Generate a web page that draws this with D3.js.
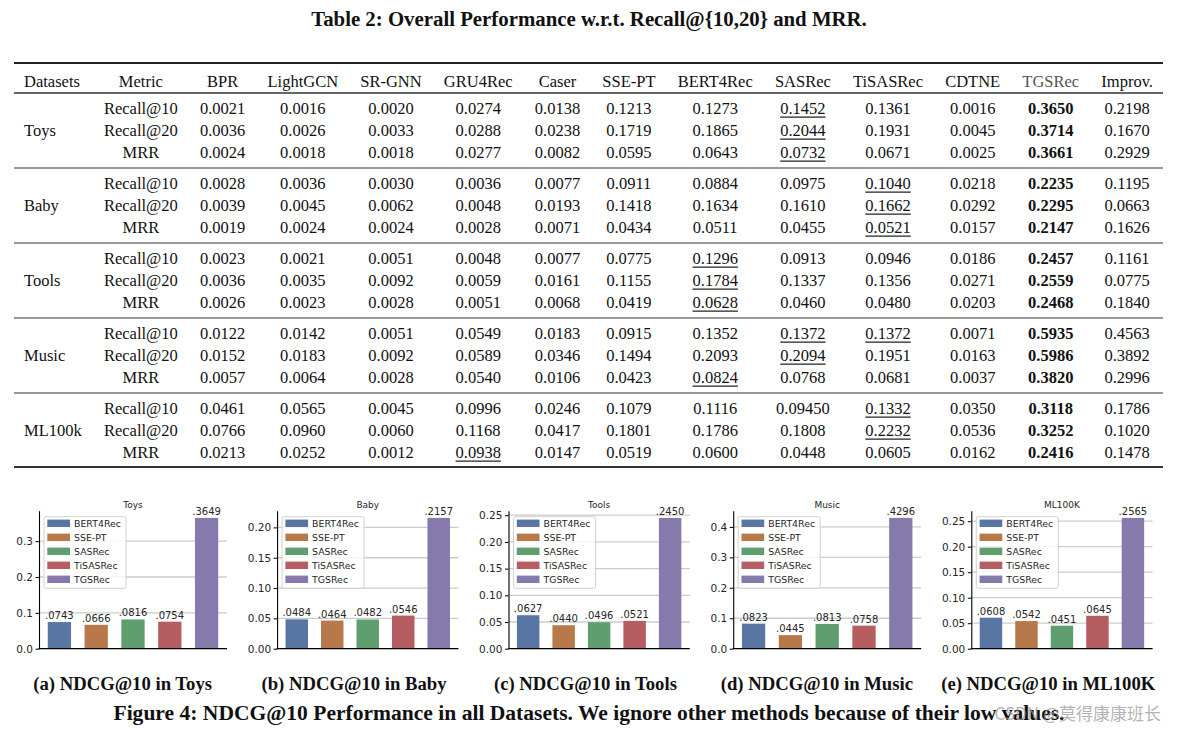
<!DOCTYPE html>
<html><head><meta charset="utf-8">
<script src="https://cdn.jsdelivr.net/npm/d3@7"></script>
<style>body{margin:0;background:#fff} svg{display:block}</style>
</head><body><svg id="c" width="1177" height="734"></svg>
<script>
// ---------------- DATA ----------------
const tableTitle = "Table 2: Overall Performance w.r.t. Recall@{10,20} and MRR.";
const methods = ["BPR","LightGCN","SR-GNN","GRU4Rec","Caser","SSE-PT","BERT4Rec","SASRec","TiSASRec","CDTNE","TGSRec","Improv."];
const datasets = ["Toys","Baby","Tools","Music","ML100k"];
const metrics = ["Recall@10","Recall@20","MRR"];
const toysTable = [
 ["0.0021","0.0016","0.0020","0.0274","0.0138","0.1213","0.1273","0.1452","0.1361","0.0016","0.3650","0.2198"],
 ["0.0036","0.0026","0.0033","0.0288","0.0238","0.1719","0.1865","0.2044","0.1931","0.0045","0.3714","0.1670"],
 ["0.0024","0.0018","0.0018","0.0277","0.0082","0.0595","0.0643","0.0732","0.0671","0.0025","0.3661","0.2929"]];
const babyTable = [
 ["0.0028","0.0036","0.0030","0.0036","0.0077","0.0911","0.0884","0.0975","0.1040","0.0218","0.2235","0.1195"],
 ["0.0039","0.0045","0.0062","0.0048","0.0193","0.1418","0.1634","0.1610","0.1662","0.0292","0.2295","0.0663"],
 ["0.0019","0.0024","0.0024","0.0028","0.0071","0.0434","0.0511","0.0455","0.0521","0.0157","0.2147","0.1626"]];
const toolsTable = [
 ["0.0023","0.0021","0.0051","0.0048","0.0077","0.0775","0.1296","0.0913","0.0946","0.0186","0.2457","0.1161"],
 ["0.0036","0.0035","0.0092","0.0059","0.0161","0.1155","0.1784","0.1337","0.1356","0.0271","0.2559","0.0775"],
 ["0.0026","0.0023","0.0028","0.0051","0.0068","0.0419","0.0628","0.0460","0.0480","0.0203","0.2468","0.1840"]];
const musicTable = [
 ["0.0122","0.0142","0.0051","0.0549","0.0183","0.0915","0.1352","0.1372","0.1372","0.0071","0.5935","0.4563"],
 ["0.0152","0.0183","0.0092","0.0589","0.0346","0.1494","0.2093","0.2094","0.1951","0.0163","0.5986","0.3892"],
 ["0.0057","0.0064","0.0028","0.0540","0.0106","0.0423","0.0824","0.0768","0.0681","0.0037","0.3820","0.2996"]];
const ml100kTable = [
 ["0.0461","0.0565","0.0045","0.0996","0.0246","0.1079","0.1116","0.09450","0.1332","0.0350","0.3118","0.1786"],
 ["0.0766","0.0960","0.0060","0.1168","0.0417","0.1801","0.1786","0.1808","0.2232","0.0536","0.3252","0.1020"],
 ["0.0213","0.0252","0.0012","0.0938","0.0147","0.0519","0.0600","0.0448","0.0605","0.0162","0.2416","0.1478"]];

const barMethods = ["BERT4Rec","SSE-PT","SASRec","TiSASRec","TGSRec"];
const barColors = ["#5975a4","#b8794a","#5f9e6e","#b55d60","#857aab"];
const panelTitles = ["Toys","Baby","Tools","Music","ML100K"];
const ndcgToys  = [0.0743,0.0666,0.0816,0.0754,0.3649];
const ndcgBaby  = [0.0484,0.0464,0.0482,0.0546,0.2157];
const ndcgTools = [0.0627,0.0440,0.0496,0.0521,0.2450];
const ndcgMusic = [0.0823,0.0445,0.0813,0.0758,0.4296];
const ndcgML100K= [0.0608,0.0542,0.0451,0.0645,0.2565];
const ticksToys  = [0,0.1,0.2,0.3];
const ticksBaby  = [0,0.05,0.10,0.15,0.20];
const ticksTools = [0,0.05,0.10,0.15,0.20,0.25];
const ticksMusic = [0,0.1,0.2,0.3,0.4];
const ticksML100K= [0,0.05,0.10,0.15,0.20,0.25];
const captions = ["(a) NDCG@10 in Toys","(b) NDCG@10 in Baby","(c) NDCG@10 in Tools","(d) NDCG@10 in Music","(e) NDCG@10 in ML100K"];
const figureCaption = "Figure 4: NDCG@10 Performance in all Datasets. We ignore other methods because of their low values.";
const watermark = "CSDN @莫得康康班长";

// ---------------- DRAW ----------------
const svg = d3.select("#c");
const serif = "'Liberation Serif','Times New Roman',serif";
const sans = "'DejaVu Sans',sans-serif";
function measure(txt, size, weight, family){
  const t = svg.append("text").attr("font-family",family).attr("font-size",size).attr("font-weight",weight).text(txt);
  const w = t.node().getComputedTextLength(); t.remove(); return w;
}

// Title
const titleSize = 17 * 556 / measure(tableTitle, 17, "bold", serif);
svg.append("text").attr("x",589).attr("y",26).attr("text-anchor","middle")
  .attr("font-family",serif).attr("font-weight","bold").attr("font-size",titleSize).attr("fill","#111").text(tableTitle);

// Table
const tfs = 16.5;
const tables = [toysTable,babyTable,toolsTable,musicTable,ml100kTable];
const columns = ["Datasets","Metric"].concat(methods);
const colW = columns.map((c,ci)=>{
  let w = measure(c, tfs, "normal", serif);
  if(ci===0) datasets.forEach(d=>w=Math.max(w,measure(d,tfs,"normal",serif)));
  else if(ci===1) metrics.forEach(d=>w=Math.max(w,measure(d,tfs,"normal",serif)));
  else tables.forEach(tb=>tb.forEach(r=>{w=Math.max(w,measure(r[ci-2],tfs,c==="TGSRec"?"bold":"normal",serif));}));
  return w;
});
const tLeft = 24, tRight = 1153;
const gap = (tRight - tLeft - d3.sum(colW)) / (columns.length - 1);
const colStart = []; let acc = tLeft;
colW.forEach(w=>{colStart.push(acc); acc += w + gap;});
const colCenter = colStart.map((s,i)=>s+colW[i]/2);

const headerY = 81;
const groupY = d3.scaleLinear().domain([0,1]).range([108,183]); // group start
const rowStep = 22;
const rowY = (g,r)=> groupY(g) + r*rowStep;
const tg = svg.append("g").attr("font-family",serif).attr("font-size",tfs).attr("fill","#111");
const base = 5.6;
// rules
const rule = (y,w,c)=> tg.append("line").attr("x1",14).attr("x2",1163).attr("y1",y).attr("y2",y).attr("stroke",c).attr("stroke-width",w);
rule(headerY-18, 2, "#222");
rule(groupY(0)-15, 1.3, "#333");
for(let g=1; g<datasets.length; g++) rule(groupY(g)-15, 1.5, "#777");
rule(rowY(datasets.length-1,2)+15, 2, "#333");
// header
columns.forEach((c,ci)=>{
  tg.append("text").attr("x", ci===0?colStart[0]:colCenter[ci]).attr("y",headerY+base)
    .attr("text-anchor", ci===0?"start":"middle").attr("fill", c==="TGSRec"?"#555":"#111").text(c);
});
// body
datasets.forEach((d,g)=>{
  tg.append("text").attr("x",colStart[0]).attr("y",rowY(g,1)+base).text(d);
  metrics.forEach((m,r)=>{
    const y = rowY(g,r)+base;
    tg.append("text").attr("x",colCenter[1]).attr("y",y).attr("text-anchor","middle").text(m);
    const row = tables[g][r];
    const baselineVals = row.slice(0,10).map(Number);
    const best = d3.max(baselineVals);
    row.forEach((v,j)=>{
      const ci = j+2;
      const isBold = methods[j]==="TGSRec";
      const t = tg.append("text").attr("x",colCenter[ci]).attr("y",y).attr("text-anchor","middle")
        .attr("font-weight", isBold?"bold":"normal").text(v);
      if(j<10 && Number(v)===best){
        const w = t.node().getComputedTextLength();
        tg.append("line").attr("x1",colCenter[ci]-w/2).attr("x2",colCenter[ci]+w/2)
          .attr("y1",y+3.5).attr("y2",y+3.5).attr("stroke","#222").attr("stroke-width",1.1);
      }
    });
  });
});

// Bar panels
const panels = [
  {title:panelTitles[0], values:ndcgToys,  ticks:ticksToys,  fmt:d3.format(".1f")},
  {title:panelTitles[1], values:ndcgBaby,  ticks:ticksBaby,  fmt:d3.format(".2f")},
  {title:panelTitles[2], values:ndcgTools, ticks:ticksTools, fmt:d3.format(".2f")},
  {title:panelTitles[3], values:ndcgMusic, ticks:ticksMusic, fmt:d3.format(".1f")},
  {title:panelTitles[4], values:ndcgML100K,ticks:ticksML100K,fmt:d3.format(".2f")}
];
const slotStep = 231.4, slotLeft0 = 18.3, plotRight0 = 227;
const plotTop = 510.7, plotBottom = 648.7;
const tickFs = 10.5, txtCol = "#262626";
const valFmt = v => d3.format(".4f")(v).replace(/^0/,"");
let capSize = null;
panels.forEach((p,i)=>{
  const sl = slotLeft0 + slotStep*i;
  const right = plotRight0 + slotStep*i;
  const labW = d3.max(p.ticks, t=>measure(p.fmt(t), tickFs, "normal", sans));
  const left = sl + labW + 4;
  const x = d3.scaleBand().domain(barMethods).range([left,right]).paddingInner(0.367).paddingOuter(0.238);
  const y = d3.scaleLinear().domain([0, d3.max(p.values)*1.055]).range([plotBottom, plotTop]);
  const g = svg.append("g");
  // grid
  g.selectAll("line.grid").data(p.ticks.filter(t=>t>0)).join("line").attr("class","grid")
    .attr("x1",left).attr("x2",right).attr("y1",d=>y(d)).attr("y2",d=>y(d))
    .attr("stroke","#cccccc").attr("stroke-width",1.3);
  // bars
  g.selectAll("rect.bar").data(p.values).join("rect").attr("class","bar")
    .attr("x",(d,k)=>x(barMethods[k])).attr("width",x.bandwidth())
    .attr("y",d=>y(d)).attr("height",d=>y(0)-y(d)).attr("fill",(d,k)=>barColors[k]);
  // value labels
  g.selectAll("text.val").data(p.values).join("text").attr("class","val")
    .attr("x",(d,k)=>x(barMethods[k])+x.bandwidth()/2).attr("y",d=>y(d)-3)
    .attr("text-anchor","middle").attr("font-family",sans).attr("font-size",10).attr("fill",txtCol)
    .text(d=>valFmt(d));
  // y axis
  const ax = g.append("g").attr("transform",`translate(${left},0)`)
    .call(d3.axisLeft(y).tickValues(p.ticks).tickFormat(p.fmt).tickSize(3.5).tickSizeOuter(0).tickPadding(2.5));
  ax.select(".domain").attr("stroke","#000").attr("stroke-width",1.1);
  ax.selectAll(".tick line").attr("stroke","#000").attr("stroke-width",1);
  ax.selectAll(".tick text").attr("font-family",sans).attr("font-size",tickFs).attr("fill",txtCol);
  // bottom spine
  g.append("line").attr("x1",left-0.5).attr("x2",right).attr("y1",y(0)).attr("y2",y(0)).attr("stroke","#000").attr("stroke-width",1.2);
  // title
  g.append("text").attr("x",(left+right)/2).attr("y",plotTop-2.5).attr("text-anchor","middle")
    .attr("font-family",sans).attr("font-size",9).attr("fill",txtCol).text(p.title);
  // legend
  const lx = left+5, ly = plotTop+6, lw = 82, lh = 71.6;
  g.append("rect").attr("x",lx).attr("y",ly).attr("width",lw).attr("height",lh).attr("rx",2)
    .attr("fill","#fff").attr("fill-opacity",0.8).attr("stroke","#cccccc").attr("stroke-width",0.9);
  const leg = d3.scalePoint().domain(barMethods).range([ly+6.6, ly+6.6+56]);
  barMethods.forEach((m,k)=>{
    g.append("rect").attr("x",lx+3.3).attr("y",leg(m)-3.7).attr("width",22.7).attr("height",7.4).attr("fill",barColors[k]);
    g.append("text").attr("x",lx+30).attr("y",leg(m)+3.3).attr("font-family",sans).attr("font-size",9.4)
      .attr("fill",txtCol).text(m);
  });
  // caption
  if(capSize===null) capSize = 16 * 179 / measure(captions[0],16,"bold",serif);
  svg.append("text").attr("x",(sl+right)/2).attr("y",689.5).attr("text-anchor","middle")
    .attr("font-family",serif).attr("font-weight","bold").attr("font-size",capSize).attr("fill","#111").text(captions[i]);
});

// figure caption
const figSize = 17 * 952 / measure(figureCaption,17,"bold",serif);
svg.append("text").attr("x",589).attr("y",720).attr("text-anchor","middle")
  .attr("font-family",serif).attr("font-weight","bold").attr("font-size",figSize).attr("fill","#111").text(figureCaption);
// watermark
svg.append("text").attr("x",1161).attr("y",720).attr("text-anchor","end")
  .attr("font-family","'Noto Sans CJK SC',sans-serif").attr("font-size",17).attr("fill","#9a9a9a").attr("fill-opacity",0.75).text(watermark);
</script></body></html>
